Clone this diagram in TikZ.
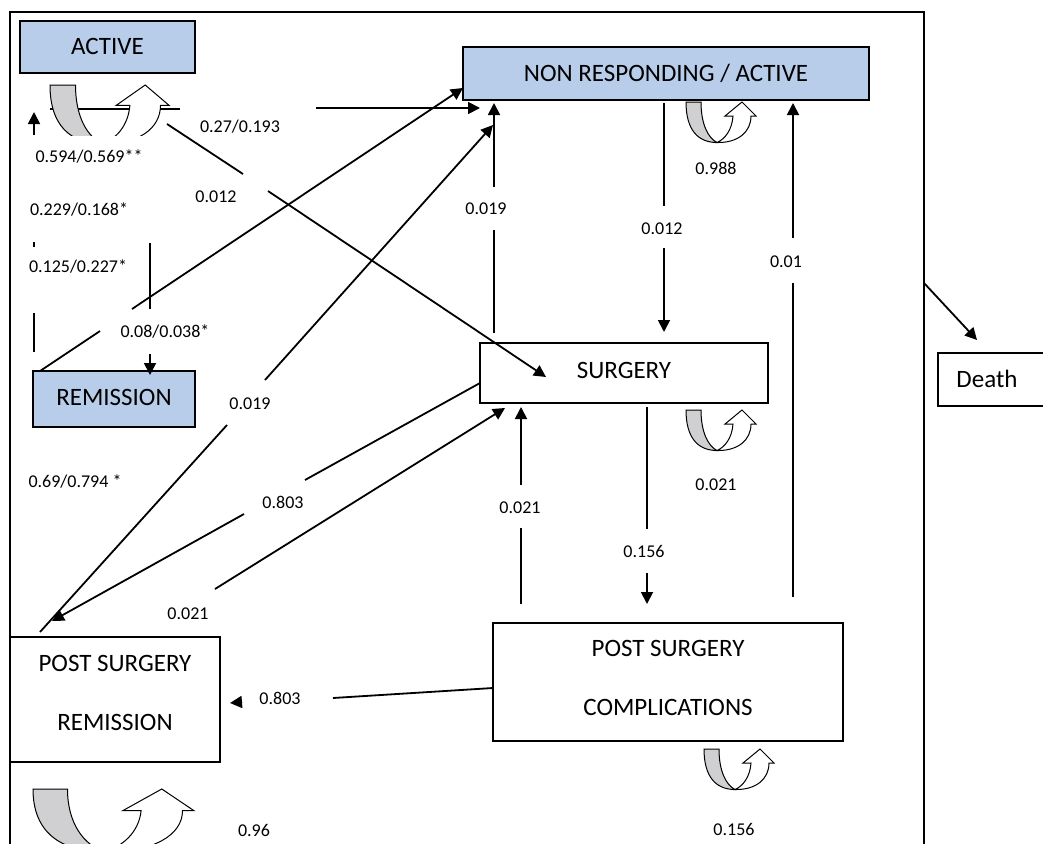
\documentclass[tikz,border=0pt]{standalone}
\usepackage{fontspec}
\setmainfont{Carlito}
\usetikzlibrary{arrows.meta}
\definecolor{boxblue}{RGB}{184,205,233}
\definecolor{loopgray}{RGB}{208,208,210}
\tikzset{
  uturn/.pic={
    \draw[line width=1pt, fill=loopgray] (0,0) -- (15,0)
      .. controls (15,22) and (22,36) .. (31,40.5)
      .. controls (12,40.5) and (0,28) .. (0,0) -- cycle;
    \draw[line width=1pt, fill=white] (31,40.5)
      .. controls (52,41) and (65,30) .. (65,14) -- (70,14) -- (56,0) -- (39,14) -- (47,14)
      .. controls (46,28) and (39,37) .. (31,40.5) -- cycle;
  },
  statebox/.style={draw, line width=1.5pt, inner sep=0pt, outer sep=0pt},
  bluebox/.style={statebox, fill=boxblue},
  boxtxt/.style={inner sep=0pt, font=\fontsize{25}{59}\selectfont, align=center},
  onetxt/.style={inner sep=0pt, font=\fontsize{25}{30}\selectfont, text height=16pt, text depth=0pt},
  lbl/.style={inner sep=0pt, font=\fontsize{18}{21}\selectfont, text height=11.4pt, text depth=0pt},
  conn/.style={line width=1.8pt},
  arr/.style={line width=1.8pt, -{Triangle[length=12pt,width=12pt]}}
}
\begin{document}
\begin{tikzpicture}[x=1pt,y=-1pt]
\useasboundingbox (0,0) rectangle (1043,843);
\clip (0,0) rectangle (1043,843);
\fill[white] (0,0) rectangle (1043,843);

% outer frame
\draw[line width=1.5pt] (10,12) rectangle (924,900);

% boxes
\node[bluebox, minimum width=175pt, minimum height=52pt] (active) at (107.5,47) {};
\node[onetxt] (activet) at (107.5,47) {ACTIVE};
\node[bluebox, minimum width=406pt, minimum height=53pt] (nr) at (666,73.5) {};
\node[onetxt] (nrt) at (666,73.5) {NON RESPONDING / ACTIVE};
\node[bluebox, minimum width=162pt, minimum height=56pt] (rem) at (114,399) {};
\node[onetxt] (remt) at (114,397) {REMISSION};
\node[statebox, minimum width=288pt, minimum height=60pt] (surg) at (624,373) {};
\node[onetxt] (surgt) at (624,370) {SURGERY};
\node[statebox, minimum width=350pt, minimum height=118pt] (psc) at (668,682) {};
\node[boxtxt] (psct) at (668,678) {POST SURGERY\\COMPLICATIONS};
\node[statebox, minimum width=210pt, minimum height=125pt] (psr) at (115,699.5) {};
\node[boxtxt] (psrt) at (115,693) {POST SURGERY\\REMISSION};
\node[statebox, minimum width=120pt, minimum height=53pt, anchor=west] (death) at (938,379.5) {};
\node[onetxt] (deatht) at (987,379) {Death};

% connector end points
\coordinate (a1) at (50,109);  \coordinate (a2) at (180,109);
\coordinate (a3) at (316,108); \coordinate (a4) at (480,108);
\coordinate (b1) at (167,124); \coordinate (b2) at (243,174);
\coordinate (b3) at (268,191); \coordinate (b4) at (546,377);
\coordinate (c1) at (40,371);  \coordinate (c2) at (100,331);
\coordinate (c3) at (132,309); \coordinate (c4) at (463,88);
\coordinate (d1) at (40,632);  \coordinate (d2) at (227,425);
\coordinate (d3) at (265,380); \coordinate (d4) at (493,125);
\coordinate (e1) at (480,383); \coordinate (e2) at (305,480);
\coordinate (e3) at (244,514); \coordinate (e4) at (52,621);
\coordinate (f1) at (215,589); \coordinate (f2) at (505,408);
\coordinate (g1) at (494,333); \coordinate (g2) at (494,230);
\coordinate (g3) at (494,187); \coordinate (g4) at (494,103);
\coordinate (h1) at (664,103); \coordinate (h2) at (664,206);
\coordinate (h3) at (664,248); \coordinate (h4) at (664,332);
\coordinate (i1) at (793,597); \coordinate (i2) at (793,283);
\coordinate (i3) at (793,238); \coordinate (i4) at (793,103);
\coordinate (j1) at (521,604); \coordinate (j2) at (521,528);
\coordinate (j3) at (521,485); \coordinate (j4) at (521,407);
\coordinate (k1) at (647,407); \coordinate (k2) at (647,529);
\coordinate (k3) at (647,573); \coordinate (k4) at (647,604);
\coordinate (l1) at (493,688); \coordinate (l2) at (333,698);
\coordinate (l3) at (242,702); \coordinate (l4) at (230,703);
\coordinate (m1) at (34,352);  \coordinate (m2) at (34,313);
\coordinate (m3) at (34,247);  \coordinate (m4) at (34,242);
\coordinate (m5) at (34,135);  \coordinate (m6) at (34,112);
\coordinate (n1) at (150,243); \coordinate (n2) at (150,309);
\coordinate (n3) at (150,354); \coordinate (n4) at (150,375);
\coordinate (o1) at (924,283); \coordinate (o2) at (977,340);

% connectors
\draw[conn] (a1) -- (a2);  \draw[arr] (a3) -- (a4);
\draw[conn] (b1) -- (b2);  \draw[arr] (b3) -- (b4);
\draw[conn] (c1) -- (c2);  \draw[arr] (c3) -- (c4);
\draw[conn] (d1) -- (d2);  \draw[arr] (d3) -- (d4);
\draw[conn] (e1) -- (e2);  \draw[arr] (e3) -- (e4);
\draw[arr] (f1) -- (f2);
\draw[conn] (g1) -- (g2);  \draw[arr] (g3) -- (g4);
\draw[conn] (h1) -- (h2);  \draw[arr] (h3) -- (h4);
\draw[conn] (i1) -- (i2);  \draw[arr] (i3) -- (i4);
\draw[conn] (j1) -- (j2);  \draw[arr] (j3) -- (j4);
\draw[conn] (k1) -- (k2);  \draw[arr] (k3) -- (k4);
\draw[conn] (l1) -- (l2);  \draw[arr] (l3) -- (l4);
\draw[conn] (m1) -- (m2);  \draw[conn] (m3) -- (m4);  \draw[arr] (m5) -- (m6);
\draw[conn] (n1) -- (n2);  \draw[arr] (n3) -- (n4);
\draw[arr] (o1) -- (o2);

% self loops
\begin{scope}
  \clip (0,0) rectangle (300,135);
  \pic[xscale=1.7, yscale=1.45] at (50,85) {uturn};
\end{scope}
\pic at (686,102) {uturn};
\pic at (686,410) {uturn};
\pic at (704,749) {uturn};
\pic[xscale=2.3, yscale=1.55] at (33,789) {uturn};

% labels
\node[lbl] (t1) at (89,157) {0.594/0.569**};
\node[lbl] (t2) at (79,210) {0.229/0.168*};
\node[lbl] (t3) at (78,267) {0.125/0.227*};
\node[lbl] (t4) at (165,332) {0.08/0.038*};
\node[lbl] (t5) at (216,197) {0.012};
\node[lbl] (t6) at (240,127) {0.27/0.193};
\node[lbl] (t7) at (250,404) {0.019};
\node[lbl] (t8) at (75,482) {0.69/0.794 *};
\node[lbl] (t9) at (283,503) {0.803};
\node[lbl] (t10) at (188,614) {0.021};
\node[lbl] (t11) at (280,699) {0.803};
\node[lbl] (t12) at (254,831) {0.96};
\node[lbl] (t13) at (486,209) {0.019};
\node[lbl] (t14) at (662,229) {0.012};
\node[lbl] (t15) at (716,169) {0.988};
\node[lbl] (t16) at (786,262) {0.01};
\node[lbl] (t17) at (716,485) {0.021};
\node[lbl] (t18) at (520,508) {0.021};
\node[lbl] (t19) at (644,552) {0.156};
\node[lbl] (t20) at (734,830) {0.156};
\end{tikzpicture}
\end{document}
